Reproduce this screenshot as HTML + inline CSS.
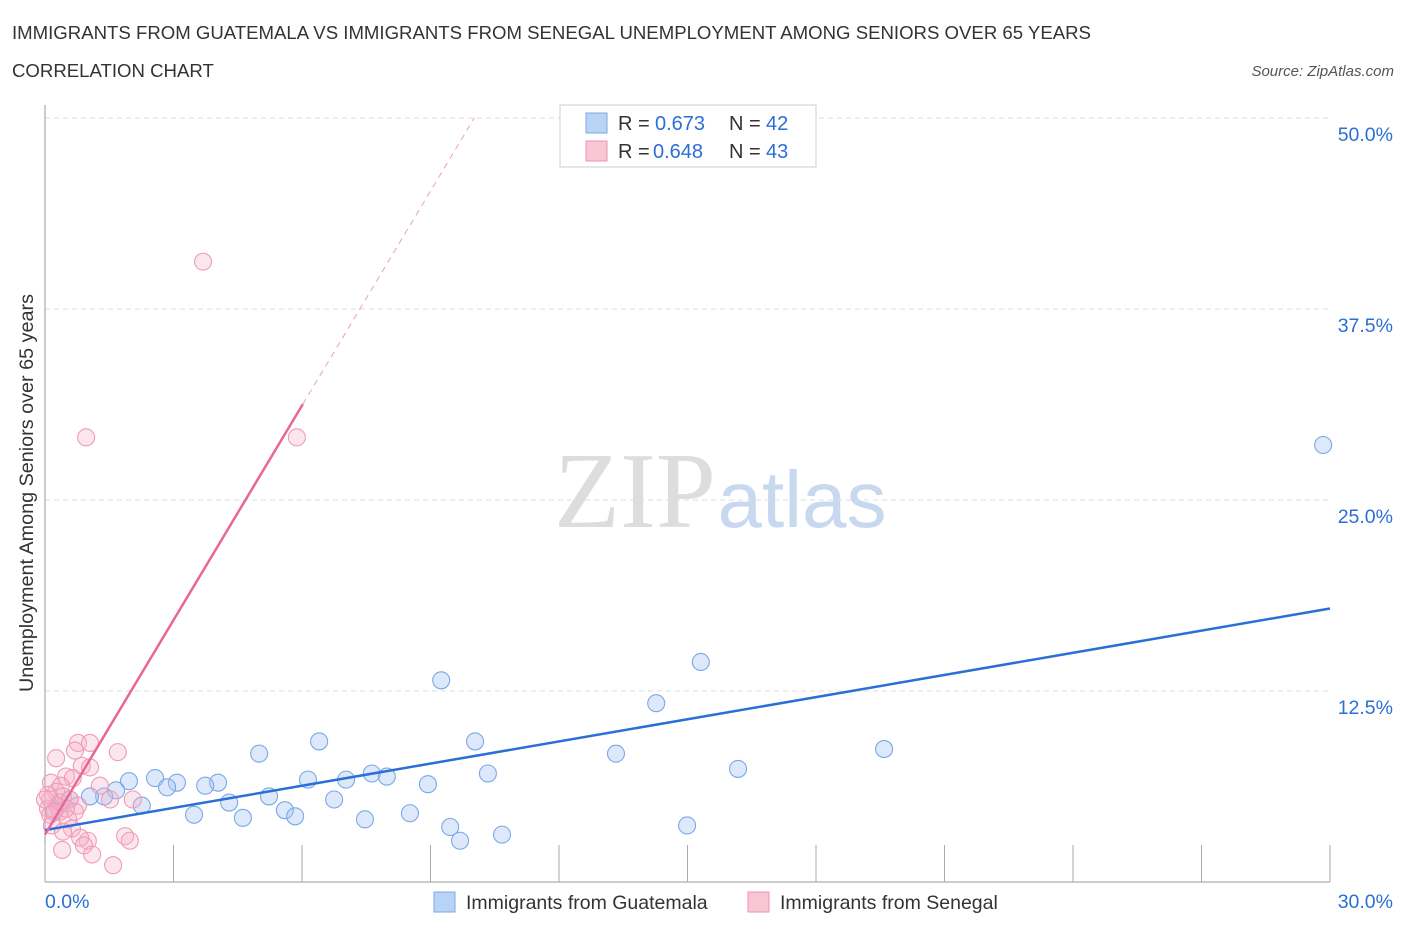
<!DOCTYPE html>
<html><head><meta charset="utf-8"><style>
body{margin:0;background:#fff;font-family:"Liberation Sans",sans-serif;}
svg{display:block}
</style></head><body>
<svg id="chart" width="1406" height="930">
<text x="12" y="39" font-size="18.6" fill="#333">IMMIGRANTS FROM GUATEMALA VS IMMIGRANTS FROM SENEGAL UNEMPLOYMENT AMONG SENIORS OVER 65 YEARS</text>
<text x="12" y="77" font-size="18.6" fill="#333">CORRELATION CHART</text>
<text x="1394" y="76" font-size="15" font-style="italic" fill="#555" text-anchor="end">Source: ZipAtlas.com</text>
<g>
<text x="635" y="527" font-size="108" font-family="Liberation Serif,serif" fill="#ddd" text-anchor="middle">ZIP</text>
<text x="802" y="527" font-size="80" fill="#c8d8ee" text-anchor="middle">atlas</text>
</g>
<text transform="translate(33,493) rotate(-90)" font-size="19.8" fill="#333" text-anchor="middle">Unemployment Among Seniors over 65 years</text>
<g id="grid"></g>
<g id="marks"></g>
<g>
<rect x="560" y="105" width="256" height="62" fill="#fff" stroke="#ccc"/>
<rect x="586" y="113" width="21" height="20" fill="#b9d3f5" stroke="#7aa8e8"/>
<rect x="586" y="141" width="21" height="20" fill="#f9c6d5" stroke="#ee93b1"/>
<text x="618" y="130" font-size="20" fill="#333">R =</text>
<text x="655" y="130" font-size="20" fill="#2b6fd6">0.673</text>
<text x="729" y="130" font-size="20" fill="#333">N =</text>
<text x="766" y="130" font-size="20" fill="#2b6fd6">42</text>
<text x="618" y="158" font-size="20" fill="#333">R =</text>
<text x="653" y="158" font-size="20" fill="#2b6fd6">0.648</text>
<text x="729" y="158" font-size="20" fill="#333">N =</text>
<text x="766" y="158" font-size="20" fill="#2b6fd6">43</text>
</g>
<g>
<rect x="434" y="892" width="21" height="20" fill="#b9d3f5" stroke="#7aa8e8"/>
<text x="466" y="909" font-size="19.5" fill="#333">Immigrants from Guatemala</text>
<rect x="748" y="892" width="21" height="20" fill="#f9c6d5" stroke="#ee93b1"/>
<text x="780" y="909" font-size="19.5" fill="#333">Immigrants from Senegal</text>
</g>
</svg>
<script>
const yTicks=[12.5,25,37.5,50];
const yTickLabels=["12.5%","25.0%","37.5%","50.0%"];
const xTickLabels=["0.0%","30.0%"];
const guatX=[29.84,15.31,9.25,14.27,19.59,6.40,10.04,5.00,13.33,16.18,10.34,7.63,7.98,7.03,2.57,3.08,1.96,6.14,4.04,3.74,8.94,2.85,1.66,5.23,1.38,4.30,6.75,2.26,5.60,3.48,5.84,8.52,4.62,7.47,9.46,14.99,10.67,9.69,1.05,0.35,0.58,0.23];
const guatY=[28.6,14.4,13.2,11.7,8.7,9.2,9.2,8.4,8.4,7.4,7.1,7.1,6.9,6.7,6.8,6.5,6.6,6.7,6.5,6.3,6.4,6.2,6.0,5.6,5.6,5.2,5.4,5.0,4.7,4.4,4.3,4.5,4.2,4.1,3.6,3.7,3.1,2.7,5.6,5.2,5.4,4.7];
const senX=[3.69,0.96,5.88,0.77,1.05,1.70,0.70,0.26,0.86,1.05,0.49,0.65,0.14,0.37,1.28,0.26,0.42,0.12,0.58,0.28,0.07,0.77,0.35,0.70,0.12,0.54,0.16,0.63,0.42,1.87,1.98,1.00,0.82,1.52,2.05,0.91,0.40,1.10,1.59,0.07,0.49,0.21,0.0];
const senY=[40.6,29.1,29.1,9.1,9.1,8.5,8.6,8.1,7.6,7.5,6.9,6.8,6.5,6.3,6.3,5.9,5.6,5.4,5.4,5.0,4.8,5.0,4.6,4.6,4.4,4.1,3.7,3.5,3.3,3.0,2.7,2.7,2.9,5.4,5.4,2.4,2.1,1.8,1.1,5.7,4.8,4.6,5.4];
const guatLine=[3.4,17.9];
const senLine=[3.1,4.68];

const NS="http://www.w3.org/2000/svg";
const X=v=>45+v/30*1285;
const Y=v=>882-v/50*764;
function mk(tag,attrs,parent){const e=document.createElementNS(NS,tag);for(const k in attrs)e.setAttribute(k,attrs[k]);parent.appendChild(e);return e;}
const grid=document.getElementById('grid'),marks=document.getElementById('marks');
yTicks.forEach((t,i)=>{
  const l=mk('line',{x1:45,x2:1330,y1:Y(t),y2:Y(t),stroke:'#ddd','stroke-dasharray':'5,4'},grid);
  
  
  const tx=mk('text',{x:1393,y:Y(t)+23,'font-size':19.5,fill:'#2b6fd6','text-anchor':'end'},grid);
  tx.textContent=yTickLabels[i];
  
  
});
const ax=mk('line',{x1:45,x2:45,y1:105,y2:882,stroke:'#999'},grid);


const bx=mk('line',{x1:45,x2:1330,y1:882,y2:882,stroke:'#999'},grid);


for(let i=0;i<=10;i++){
  const t=mk('line',{x1:X(i*3),x2:X(i*3),y1:845,y2:882,stroke:'#aaa'},grid);
  
  
}
[[0,'start',45],[30,'end',1393]].forEach((a,i)=>{
  const t=mk('text',{x:a[2],y:908,'font-size':19.5,fill:'#2b6fd6','text-anchor':a[1]},grid);
  t.textContent=xTickLabels[i];
  
  
});
guatX.forEach((v,i)=>{
  const c=mk('circle',{cx:X(v),cy:Y(guatY[i]),r:8.5,fill:'rgba(165,198,242,0.38)',stroke:'#7aa8e6','stroke-width':1.1},marks);
  
  
});
senX.forEach((v,i)=>{
  const c=mk('circle',{cx:X(v),cy:Y(senY[i]),r:8.5,fill:'rgba(246,178,200,0.32)',stroke:'#ef9bb8','stroke-width':1.1},marks);
  
  
});
const gl=mk('line',{x1:X(0),y1:Y(guatLine[0]),x2:X(30),y2:Y(guatLine[1]),stroke:'#2a6fd6','stroke-width':2.5},marks);


const sEnd=6.02, sDash=(50-senLine[0])/senLine[1];
const sl=mk('line',{x1:X(0),y1:Y(senLine[0]),x2:X(sEnd),y2:Y(senLine[0]+senLine[1]*sEnd),stroke:'#e8679a','stroke-width':2.5},marks);


const sd=mk('line',{x1:X(sEnd),y1:Y(senLine[0]+senLine[1]*sEnd),x2:X(sDash),y2:Y(50),stroke:'#eaa0bb','stroke-width':1,'stroke-dasharray':'6,5'},marks);


</script>
</body></html>
